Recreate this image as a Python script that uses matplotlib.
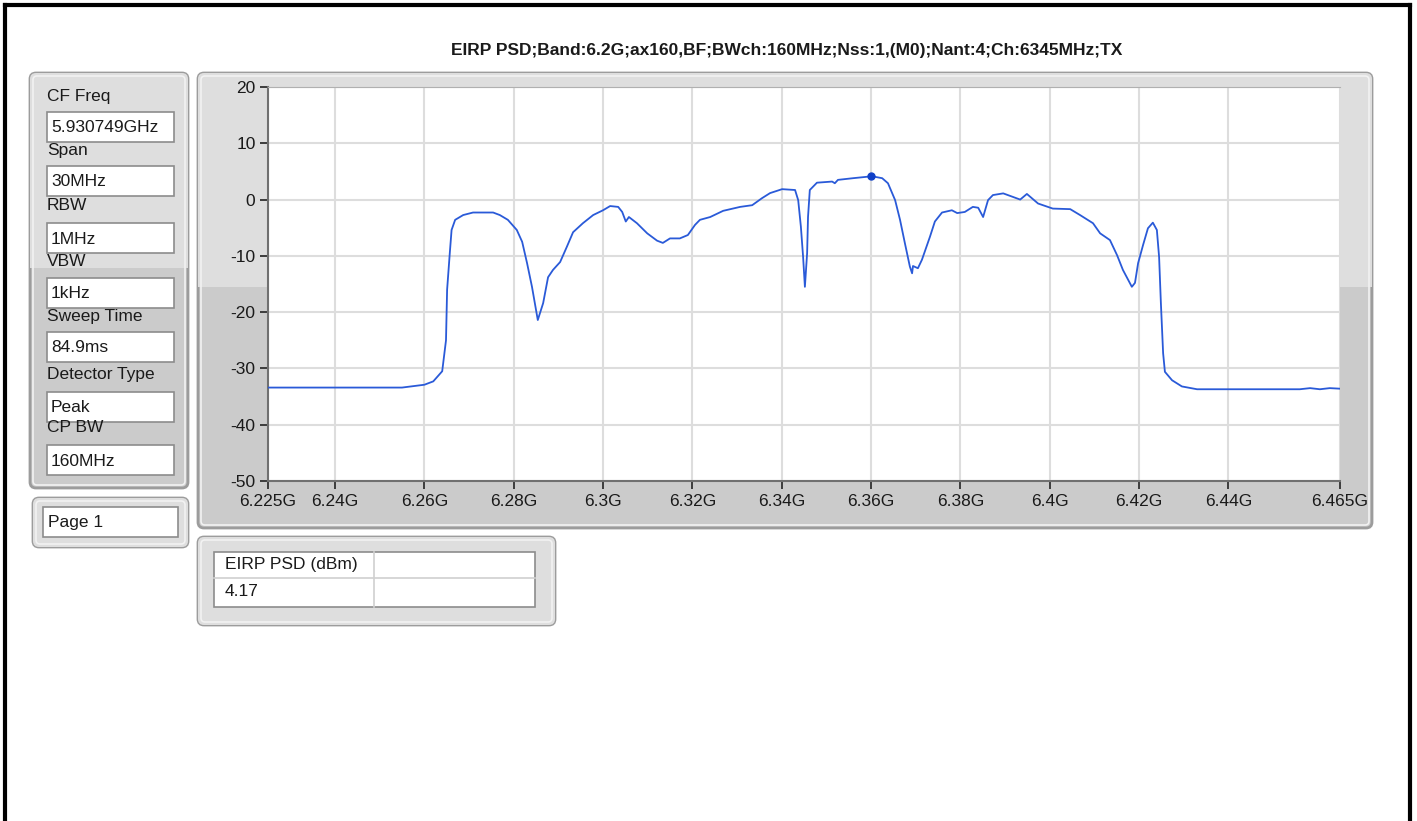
import matplotlib
matplotlib.use("Agg")
import matplotlib.pyplot as plt
from matplotlib.patches import FancyBboxPatch, Rectangle

plt.rcParams['font.family'] = ['Liberation Sans', 'DejaVu Sans']
plt.rcParams['axes.unicode_minus'] = False

title = "EIRP PSD;Band:6.2G;ax160,BF;BWch:160MHz;Nss:1,(M0);Nant:4;Ch:6345MHz;TX"

# trace (MHz, dBm)
freq_mhz = [6225.0, 6240.0, 6255.0, 6257.0, 6260.0, 6262.0, 6264.0, 6264.85, 6265.1,
            6265.7, 6266.1, 6266.9, 6268.7, 6270.9, 6275.4, 6276.9, 6278.7, 6280.7,
            6281.9, 6283.0, 6284.1, 6285.4, 6286.6, 6287.7, 6288.8, 6290.4, 6291.9,
            6293.3, 6295.5, 6297.8, 6300.0, 6301.6, 6303.4, 6304.3, 6305.1, 6305.8,
            6307.6, 6309.9, 6312.1, 6313.4, 6315.0, 6317.2, 6319.0, 6320.6, 6321.7,
            6324.0, 6326.9, 6330.7, 6333.4, 6335.6, 6337.4, 6340.1, 6343.0, 6343.7,
            6344.3, 6344.8, 6345.2, 6345.7, 6345.9, 6346.3, 6347.9, 6351.3, 6351.9,
            6352.6, 6356.0, 6359.1, 6360.0, 6362.5, 6363.8, 6365.4, 6366.5, 6367.6,
            6368.7, 6369.2, 6369.4, 6370.5, 6371.4, 6373.2, 6374.3, 6375.9, 6378.1,
            6379.3, 6381.0, 6382.8, 6384.0, 6385.1, 6386.2, 6387.3, 6389.6, 6393.4,
            6394.9, 6397.4, 6400.7, 6404.6, 6406.8, 6409.7, 6411.3, 6413.5, 6415.1,
            6416.4, 6418.4, 6419.1, 6419.8, 6420.9, 6422.0, 6423.1, 6424.0, 6424.5,
            6424.9, 6425.4, 6425.8, 6427.4, 6429.6, 6433.0, 6456.0, 6458.3, 6460.5,
            6462.7, 6465.0]
psd_dbm = [-33.4, -33.4, -33.4, -33.2, -32.9, -32.3, -30.5, -25.0, -16.0,
           -9.5, -5.4, -3.6, -2.75, -2.3, -2.3, -2.75, -3.6, -5.4,
           -7.5, -11.3, -15.5, -21.4, -18.4, -13.8, -12.5, -11.1, -8.4,
           -5.8, -4.2, -2.75, -1.9, -1.15, -1.3, -2.2, -3.9, -3.1,
           -4.2, -6.0, -7.3, -7.7, -6.9, -6.9, -6.3, -4.5, -3.6,
           -3.1, -2.0, -1.3, -1.0, 0.25, 1.15, 1.85, 1.7, -0.1,
           -4.8, -10.2, -15.5, -9.5, -3.1, 1.7, 3.0, 3.2, 2.9,
           3.5, 3.8, 4.05, 4.17, 3.8, 2.9, -0.1, -3.6, -7.8,
           -11.9, -13.1, -11.8, -12.2, -10.7, -6.6, -3.9, -2.3, -1.9,
           -2.4, -2.2, -1.3, -1.45, -3.1, -0.1, 0.8, 1.1, 0.0,
           1.0, -0.7, -1.6, -1.7, -2.75, -4.2, -6.0, -7.2, -9.9,
           -12.5, -15.5, -14.8, -11.3, -8.1, -5.1, -4.1, -5.4, -10.2,
           -18.4, -27.3, -30.6, -32.1, -33.2, -33.7, -33.7, -33.5, -33.7,
           -33.5, -33.6]

marker_freq = 6360.0
marker_val = 4.17

x_ticks = [6225, 6240, 6260, 6280, 6300, 6320, 6340, 6360, 6380, 6400, 6420, 6440, 6465]
x_ticklabels = ["6.225G", "6.24G", "6.26G", "6.28G", "6.3G", "6.32G", "6.34G", "6.36G",
                "6.38G", "6.4G", "6.42G", "6.44G", "6.465G"]
y_ticks = [-50, -40, -30, -20, -10, 0, 10, 20]

setting_names = ["CF Freq", "Span", "RBW", "VBW", "Sweep Time", "Detector Type", "CP BW"]
setting_values = ["5.930749GHz", "30MHz", "1MHz", "1kHz", "84.9ms", "Peak", "160MHz"]
page_text = "Page 1"
table_header = "EIRP PSD (dBm)"
table_value = "4.17"

FS = 12.5
W, H = 1417, 821
fig = plt.figure(figsize=(W / 100, H / 100), dpi=100)
fig.patch.set_facecolor("white")

# background layer in pixel coordinates
bg = fig.add_axes([0, 0, 1, 1])
bg.set_xlim(0, W)
bg.set_ylim(H, 0)
bg.axis("off")

# outer black frame
bg.plot([5, 1410], [5, 5], color="black", lw=3)
bg.plot([5, 5], [5, H], color="black", lw=3)
bg.plot([1410, 1410], [5, H], color="black", lw=3)


def panel(x0, y0, x1, y1, split=None):
    p = FancyBboxPatch((x0, y0), x1 - x0, y1 - y0, boxstyle="round,pad=0,rounding_size=6",
                       facecolor="#cbcbcb", edgecolor="#9c9c9c", lw=2, zorder=1)
    bg.add_patch(p)
    top = Rectangle((x0, y0), x1 - x0, (split if split else y1) - y0,
                    facecolor="#dedede", edgecolor="none", zorder=1.1)
    top.set_clip_path(p)
    bg.add_patch(top)
    inner = FancyBboxPatch((x0 + 3, y0 + 3), x1 - x0 - 6, y1 - y0 - 6,
                           boxstyle="round,pad=0,rounding_size=4",
                           facecolor="none", edgecolor="#f2f2f2", lw=1.2, zorder=1.2)
    bg.add_patch(inner)


def field(x0, y0, x1, y1):
    bg.add_patch(Rectangle((x0, y0), x1 - x0, y1 - y0, facecolor="white",
                           edgecolor="#8c8c8c", lw=1.2, zorder=2))


# settings panel
panel(30, 73, 188, 488, split=268)
label_y = [96, 150, 206, 262, 316, 375, 428]
box_y = [112, 166, 223, 278, 332, 392, 445]
for name, val, ly, by in zip(setting_names, setting_values, label_y, box_y):
    bg.text(47, ly, name, fontsize=FS, va="center", ha="left", color="#1a1a1a", zorder=3)
    field(47, by, 174, by + 30)
    bg.text(51, by + 16, val, fontsize=FS, va="center", ha="left", color="#1a1a1a", zorder=3)

# page panel
panel(33, 498, 188, 547)
field(43, 507, 178, 537)
bg.text(48, 523, page_text, fontsize=FS, va="center", ha="left", color="#1a1a1a", zorder=3)

# graph panel
panel(198, 73, 1372, 528, split=287)

# table panel
panel(198, 537, 555, 625)
bg.add_patch(Rectangle((214, 552), 321, 55, facecolor="white", edgecolor="#8c8c8c", lw=1.2, zorder=2))
bg.plot([214, 535], [578, 578], color="#d0d0d0", lw=1.2, zorder=3)
bg.plot([374, 374], [552, 607], color="#d0d0d0", lw=1.2, zorder=3)
bg.text(225, 565, table_header, fontsize=FS, va="center", ha="left", color="#1a1a1a", zorder=3)
bg.text(225, 592, table_value, fontsize=FS, va="center", ha="left", color="#1a1a1a", zorder=3)

bg.text(787, 50, title, fontsize=12.5, fontweight="bold", ha="center", va="center", color="#1a1a1a")

# spectrum plot
ax = fig.add_axes([268 / W, 1 - 481 / H, (1340 - 268) / W, (481 - 87) / H])
ax.set_facecolor("white")
ax.plot(freq_mhz, psd_dbm, color="#2a5ad8", lw=1.3, zorder=3)
ax.plot([marker_freq], [marker_val], "o", color="#1040c8", ms=5, zorder=4)
ax.set_xlim(6225, 6465)
ax.set_ylim(-50, 20)
ax.set_xticks(x_ticks)
ax.set_xticklabels(x_ticklabels)
ax.set_yticks(y_ticks)
ax.grid(True, color="#dddddd", lw=1.5)
ax.set_axisbelow(True)
ax.tick_params(axis="both", direction="out", length=6, width=1.3, color="#303030",
               labelsize=FS, labelcolor="#1a1a1a", pad=3)
for side in ["left", "bottom"]:
    ax.spines[side].set_color("#707070")
    ax.spines[side].set_linewidth(1.5)
ax.spines["top"].set_color("#b0b0b0")
ax.spines["right"].set_visible(False)

fig.savefig("out.png", dpi=100)
